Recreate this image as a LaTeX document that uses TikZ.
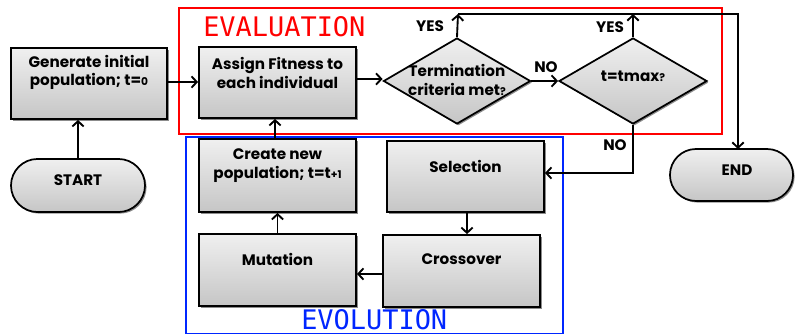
\documentclass[tikz,border=0pt]{standalone}
\usepackage{fontspec}
\setmainfont{Poppins}
\setmonofont{DejaVu Sans Mono}
\usetikzlibrary{arrows.meta,shapes.geometric,shapes.misc,shadows}
\newcommand\smallch[1]{{\fontsize{8}{8}\selectfont #1}}
\begin{document}
\begin{tikzpicture}[x=0.75pt,y=-0.75pt,
  shaded/.style={draw=black,line width=1.3pt,top color=gray!12,bottom color=gray!45,
    drop shadow={shadow xshift=1.2pt,shadow yshift=-1.2pt,opacity=0.45,fill=black}},
  proc/.style={shaded,rectangle,inner sep=0pt},
  term/.style={shaded,rounded rectangle,inner sep=0pt},
  decide/.style={shaded,diamond,inner sep=0pt,aspect=1.7},
  txt/.style={font=\bfseries\fontsize{11.4}{14}\selectfont,align=center,inner sep=0pt},
  lbl/.style={font=\bfseries\fontsize{11.4}{12}\selectfont,inner sep=0pt},
  arr/.style={line width=1.4pt,-{Straight Barb[length=4pt,width=8.5pt,line width=1.4pt]}},
  group/.style={line width=1.1pt},
  grouptitle/.style={font=\ttfamily\fontsize{20.2}{20}\selectfont,inner sep=0pt,
    text height=14pt,text depth=0pt,anchor=west}]
\useasboundingbox (0,0) rectangle (796,335);

% grouping frames
\draw[group,red] (179,8) rectangle (722,134);
\draw[group,blue!85!cyan] (186,137) rectangle (563,333.5);
\node[grouptitle,red] (evaltitle) at (203,27.5) {EVALUATION};
\node[grouptitle,blue!85!cyan] (evoltitle) at (301,320.5) {EVOLUTION};

% process boxes
\node[proc,minimum width=117pt,minimum height=53.3pt] (gen) at (89,83.5) {};
\node[proc,minimum width=117.8pt,minimum height=53.3pt] (assign) at (277.5,82.5) {};
\node[proc,minimum width=117.8pt,minimum height=54.8pt] (create) at (277.5,175.5) {};
\node[proc,minimum width=117.8pt,minimum height=54pt] (mutation) at (277.5,270) {};
\node[proc,minimum width=117.8pt,minimum height=53.3pt] (selection) at (465.5,176.5) {};
\node[proc,minimum width=117.8pt,minimum height=54pt] (crossover) at (461.5,271) {};
\node[term,minimum width=100.5pt,minimum height=39.8pt] (start) at (78,185.5) {};
\node[term,minimum width=92.3pt,minimum height=39pt] (end) at (731.5,175) {};
\node[decide,minimum width=110.3pt,minimum height=64.5pt] (crit) at (457,81) {};
\node[decide,minimum width=111pt,minimum height=64.5pt] (tmax) at (633,81) {};

% box texts
\node[txt] (genT) at (89,72.5) {Generate initial\\population; t=\smallch{0}};
\node[txt] (assignT) at (277.5,73) {Assign Fitness to\\each individual};
\node[txt] (createT) at (277.5,165.5) {Create new\\population; t=t\smallch{+1}};
\node[txt] (mutationT) at (277.5,259) {Mutation};
\node[txt] (selectionT) at (465.5,166) {Selection};
\node[txt] (crossoverT) at (461.5,259) {Crossover};
\node[txt] (startT) at (78,180) {START};
\node[txt] (endT) at (737,170) {END};
\node[txt] (critT) at (457,80) {Termination\\criteria met\smallch{?}};
\node[txt] (tmaxT) at (633,76) {t=tmax\smallch{?}};

% branch points
\coordinate (yes1) at (458,14);
\coordinate (yes2) at (633,14);
\coordinate (endin) at (738,149);

% connectors
\draw[arr] (start.north) -- (start.north |- gen.south);
\draw[arr] (gen.east |- 0,82) -- (assign.west |- 0,82);
\draw[arr] (assign.east |- 0,79) -- (crit.west |- 0,79);
\draw[arr] (crit.east) -- (tmax.west);
\draw[arr] (crit.north) -- (yes1);
\draw[arr] (tmax.north) -- (yes2);
\draw[arr] (yes1) -| (endin);
\draw[arr] (tmax.south) |- (selection.east |- 0,173);
\draw[arr] (selection.south -| 467,0) -- (crossover.north -| 467,0);
\draw[arr] (crossover.west |- 0,274) -- (mutation.east |- 0,274);
\draw[arr] (mutation.north) -- (create.south);
\draw[arr] (create.north -| 275,0) -- (assign.south -| 275,0);

% branch labels
\node[lbl] (yesA) at (430,26) {YES};
\node[lbl] (yesB) at (610,27) {YES};
\node[lbl] (noA) at (546,67) {NO};
\node[lbl] (noB) at (615,145) {NO};
\end{tikzpicture}
\end{document}
